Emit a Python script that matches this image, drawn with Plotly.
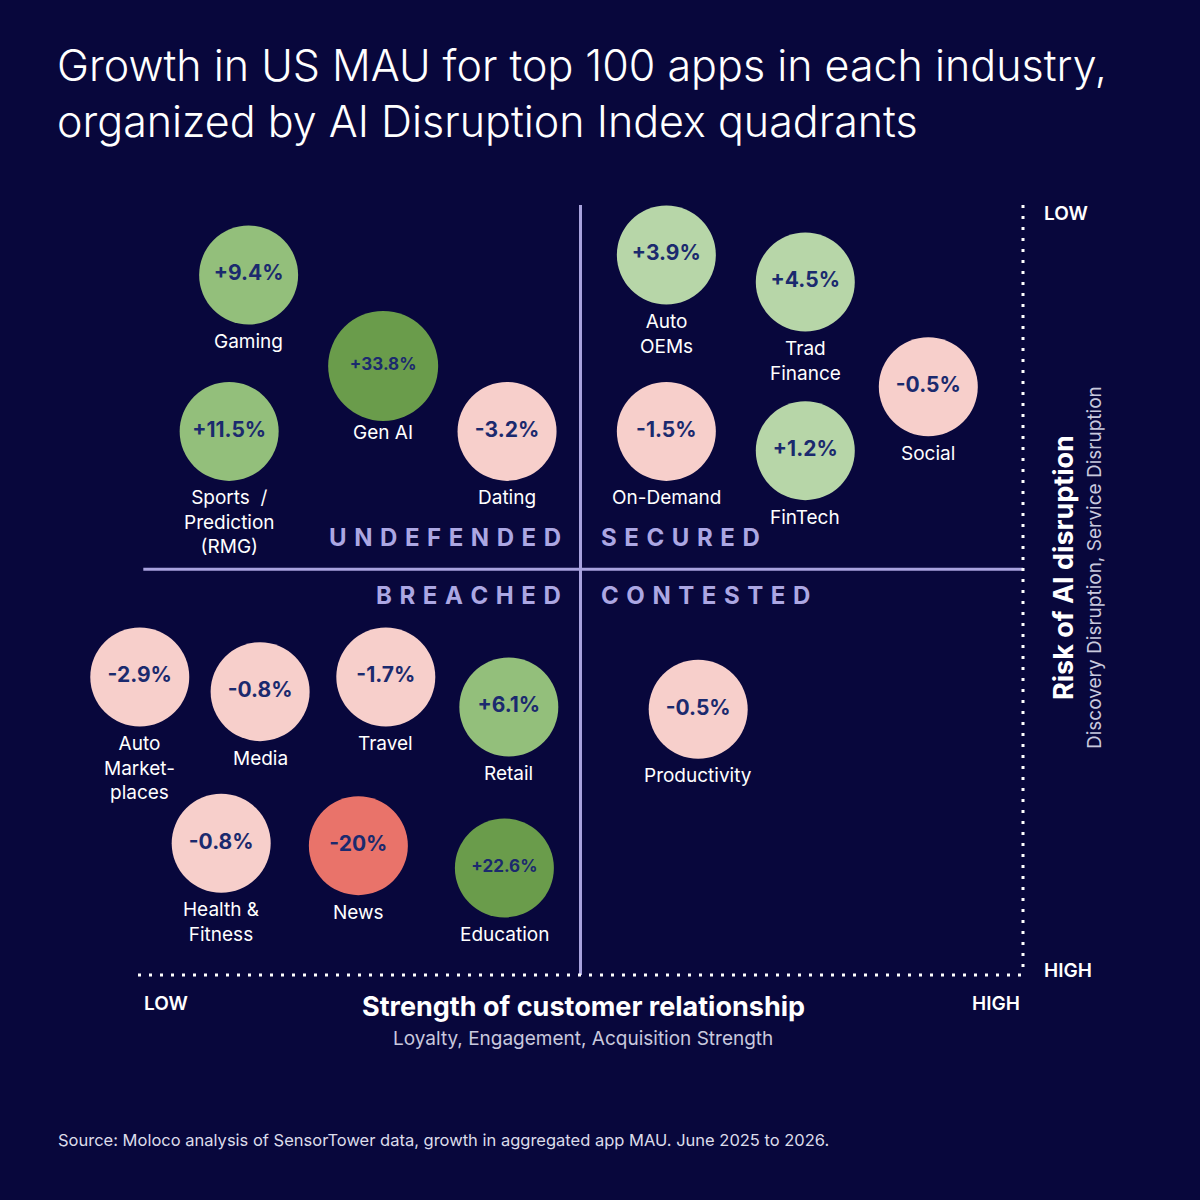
import plotly.graph_objects as go

# industries (x = strength of customer relationship, y = risk of AI disruption, 0 = low)
industries = ["Gaming", "Sports  /<br>Prediction<br>(RMG)", "Gen AI", "Dating",
              "Auto<br>OEMs", "Trad<br>Finance", "Social", "On-Demand", "FinTech",
              "Auto<br>Market-<br>places", "Media", "Travel", "Retail", "Productivity",
              "Health &<br>Fitness", "News", "Education"]
relationship = [12.5, 10.3, 27.7, 41.7, 59.7, 75.4, 89.3, 59.7, 75.4,
                0.2, 13.8, 28.0, 41.9, 63.3, 9.4, 24.9, 41.4]
risk = [9.1, 29.4, 20.9, 29.4, 6.5, 10.0, 23.6, 29.4, 31.9,
        61.3, 63.2, 61.3, 65.2, 65.5, 82.9, 83.2, 86.1]
growth = [9.4, 11.5, 33.8, -3.2, 3.9, 4.5, -0.5, -1.5, 1.2,
          -2.9, -0.8, -1.7, 6.1, -0.5, -0.8, -20.0, 22.6]

quadrants = ["UNDEFENDED", "SECURED", "BREACHED", "CONTESTED"]

BG = "#08073c"
LINE = "#a8a2de"
NAVY = "#1b2a6e"
FONT = "Inter"


def growth_text(v):
    if v == int(v):
        return f"{v:+.0f}%"
    return f"{v:+.1f}%"


def bubble_color(v):
    if v >= 20:
        return "#6a9c4b"
    if v >= 5:
        return "#93bf7b"
    if v >= 0:
        return "#b7d6a8"
    if v > -5:
        return "#f7cfcb"
    return "#e9736a"


colors = [bubble_color(v) for v in growth]
sizes = [110 if v > 30 else 99 for v in growth]
value_sizes = [17 if v >= 20 else 21 for v in growth]

fig = go.Figure()

# bubbles with the growth value inside
fig.add_trace(go.Scatter(
    x=relationship, y=risk,
    mode="markers+text",
    marker=dict(size=sizes, color=colors, line=dict(width=0), opacity=1),
    text=[growth_text(v) for v in growth],
    textposition="middle center",
    textfont=dict(family=FONT, size=value_sizes, color=NAVY, weight=700),
    cliponaxis=False,
    hoverinfo="skip",
    showlegend=False,
))

# industry names under each bubble
for name, xv, yv in zip(industries, relationship, risk):
    fig.add_annotation(x=xv, y=yv, text=name, showarrow=False, align="center",
                       xanchor="center", yanchor="top", yshift=-54, borderpad=0,
                       font=dict(family=FONT, size=19, color="white"))

mid_x = 50
mid_y = 47.3

# quadrant dividers
fig.add_shape(type="line", x0=mid_x, x1=mid_x, y0=0, y1=100,
              line=dict(color=LINE, width=3))
fig.add_shape(type="line", x0=0.6, x1=100, y0=mid_y, y1=mid_y,
              line=dict(color=LINE, width=3))

# dotted axes
fig.add_shape(type="line", x0=0, x1=100, y0=100, y1=100,
              line=dict(color="white", width=3, dash="3px,8px"))
fig.add_shape(type="line", x0=100, x1=100, y0=0, y1=100,
              line=dict(color="white", width=3, dash="3px,8px"))


def spaced(word):
    return " \u200a".join(word)


qfont = dict(family=FONT, size=24, color="#aca7e3", weight=700)
for name, xa, ys in [
    (quadrants[0], "right", 32),
    (quadrants[1], "left", 32),
    (quadrants[2], "right", -26),
    (quadrants[3], "left", -26),
]:
    fig.add_annotation(x=mid_x, y=mid_y, text=spaced(name), showarrow=False,
                       xanchor=xa, yanchor="middle", xshift=-18 if xa == "right" else 18, yshift=ys,
                       font=qfont)


def paper_note(text, px, py, size, color="white", weight=400, xanchor="center", angle=0, align="center"):
    fig.add_annotation(x=px / 1200, y=1 - py / 1200, xref="paper", yref="paper",
                       text=text, showarrow=False, xanchor=xanchor, yanchor="middle", align=align,
                       textangle=angle, font=dict(family=FONT, size=size, color=color, weight=weight))


paper_note("Growth in US MAU for top 100 apps in each industry,<br>"
           "organized by AI Disruption Index quadrants", 55, 93, 43, weight=300, xanchor="left", align="left")

paper_note("LOW", 166, 1003, 19, weight=600)
paper_note("HIGH", 996, 1003, 19, weight=600)
paper_note("Strength of customer relationship", 583, 1007, 27, weight=700)
paper_note("Loyalty, Engagement, Acquisition Strength", 583, 1038, 19, color="#c9c9de")

paper_note("LOW", 1066, 213, 19, weight=600)
paper_note("HIGH", 1068, 970, 19, weight=600)
paper_note("Risk of AI disruption", 1063, 568, 27, weight=700, angle=-90)
paper_note("Discovery Disruption, Service Disruption", 1094, 568, 19, color="#c9c9de", angle=-90)

paper_note("Source: Moloco analysis of SensorTower data, growth in aggregated app MAU. June 2025 to 2026.",
           56, 1140, 16.5, color="#dcdcea", xanchor="left")

# plot area fills the page; ranges put 0..100 on the quadrant box
fig.update_xaxes(range=[-138 / 8.85, 1062 / 8.85], visible=False, showgrid=False, zeroline=False)
fig.update_yaxes(range=[995 / 7.7, -205 / 7.7], visible=False, showgrid=False, zeroline=False)

fig.update_layout(
    width=1200, height=1200,
    margin=dict(l=0, r=0, t=0, b=0),
    paper_bgcolor=BG, plot_bgcolor=BG,
    font=dict(family=FONT),
)

fig.write_html("out.html", config={"displayModeBar": False},
               post_script="document.body.style.margin = '0';")
